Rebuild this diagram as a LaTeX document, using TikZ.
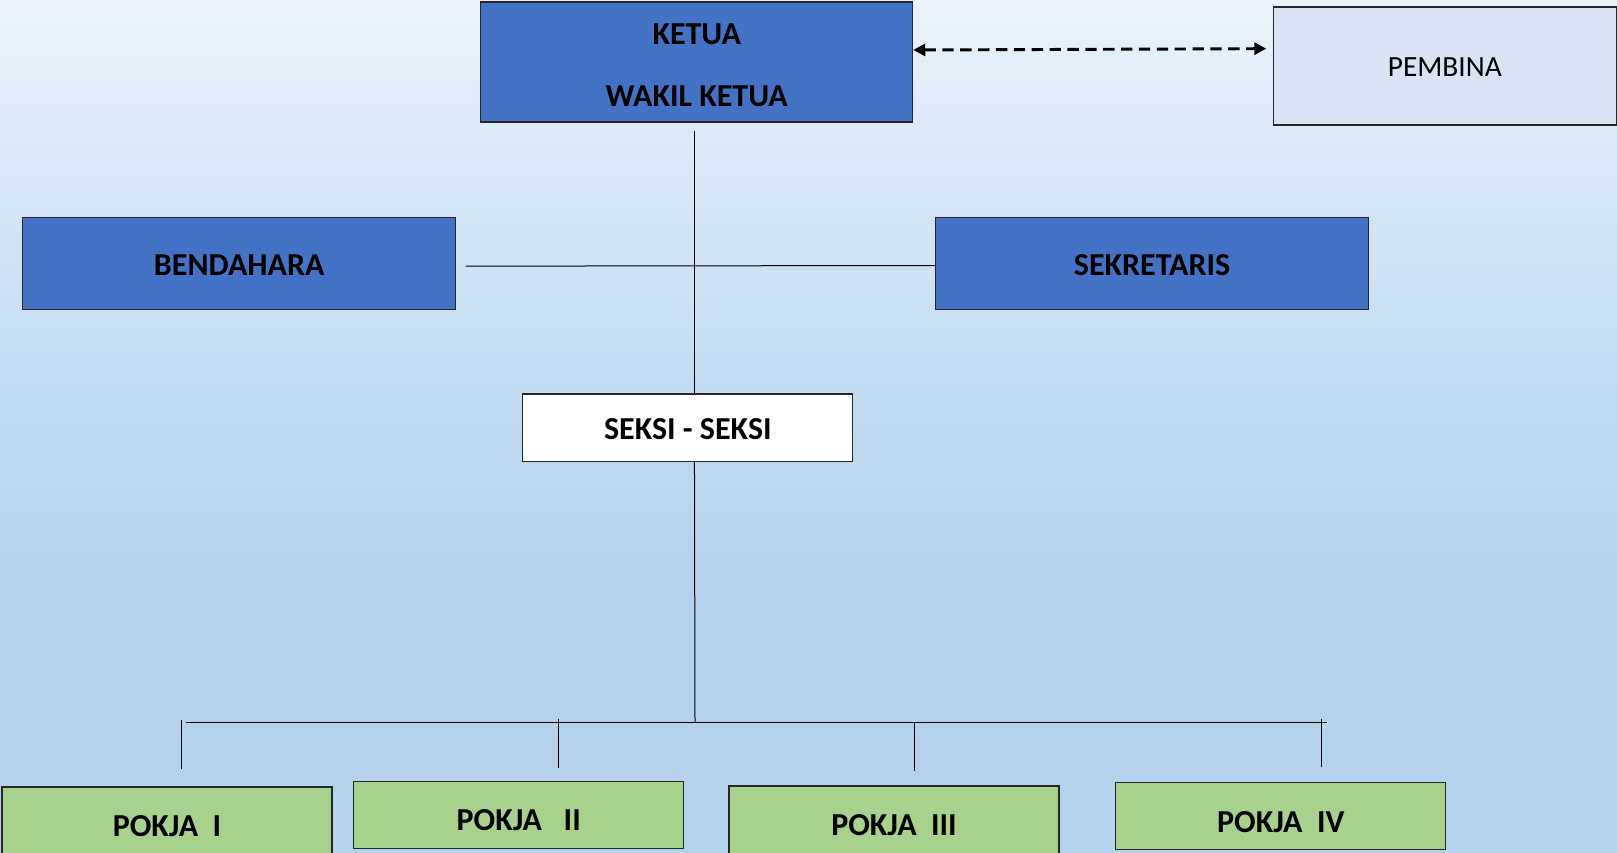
\documentclass[tikz,border=0pt]{standalone}
\usepackage{fontspec}
\setmainfont{Carlito}
\usetikzlibrary{arrows.meta,calc}
\definecolor{bgtop}{RGB}{233,242,250}
\definecolor{bgmid}{RGB}{206,226,243}
\definecolor{bgbot}{RGB}{180,210,236}
\definecolor{boxblue}{RGB}{68,114,196}
\definecolor{boxgreen}{RGB}{169,209,142}
\definecolor{boxpale}{RGB}{218,227,243}
\pgfdeclareverticalshading{bgshade}{100bp}{color(0bp)=(bgbot); color(42bp)=(bgbot); color(59bp)=(bgmid); color(75bp)=(bgtop); color(100bp)=(bgtop)}
\newcommand{\shiftdown}[2]{\raisebox{-#1}[\height][\depth]{#2}}
\begin{document}
\begin{tikzpicture}[x=0.75pt,y=-0.75pt,
  basebox/.style={draw=black!85, line width=0.8pt, rectangle, inner sep=0pt, align=center},
  bluebox/.style={basebox, fill=boxblue, font=\fontsize{24}{29}\selectfont\bfseries},
  greenbox/.style={basebox, fill=boxgreen, font=\fontsize{24}{29}\selectfont\bfseries, minimum width=247.5pt},
  whitebox/.style={basebox, fill=white, font=\fontsize{24}{29}\selectfont\bfseries},
  palebox/.style={basebox, fill=boxpale, font=\fontsize{22}{26}\selectfont},
  conn/.style={draw=black, line width=0.75pt},
  dasharrow/.style={draw=black, line width=2.2pt, dash pattern=on 8.5pt off 4.9pt, {Triangle[length=9pt,width=9pt]}-{Triangle[length=9pt,width=9pt]}}]
\shade[shading=bgshade] (0,0) rectangle (1617,853);
\useasboundingbox (0,0) rectangle (1617,853);

\node[bluebox, minimum width=324pt, minimum height=90pt] (ketua) at (696.7,62) {\shiftdown{2.3pt}{KETUA}\\[17.5pt]\shiftdown{2.3pt}{WAKIL KETUA}};
\node[palebox, minimum width=257pt, minimum height=88.5pt] (pembina) at (1444.8,66) {\shiftdown{0.8pt}{PEMBINA}};
\node[bluebox, minimum width=324.8pt, minimum height=69pt] (bend) at (239.2,263.5) {\shiftdown{1.5pt}{BENDAHARA}};
\node[bluebox, minimum width=324.8pt, minimum height=69pt] (sek) at (1152,263.5) {\shiftdown{1.5pt}{SEKRETARIS}};
\node[whitebox, minimum width=247.5pt, minimum height=50.3pt] (seksi) at (687.8,427.5) {\shiftdown{1.5pt}{SEKSI - SEKSI}};

\node[greenbox, minimum height=57pt] (p1) at (167,825) {\shiftdown{0.8pt}{POKJA\ \ I}};
\node[greenbox, minimum height=50.3pt] (p2) at (518.7,815) {\shiftdown{3.8pt}{POKJA\ \ \ II}};
\node[greenbox, minimum height=57pt] (p3) at (894,824) {\shiftdown{0.8pt}{POKJA\ \ III}};
\node[greenbox, minimum height=50.3pt] (p4) at (1280.8,816) {\shiftdown{4.3pt}{POKJA\ \ IV}};

\draw[dasharrow] ([yshift=9pt]ketua.east) -- ([xshift=-5pt,yshift=13pt]pembina.west);
\draw[conn] ([xshift=-2pt,yshift=-6pt]ketua.south) -- ([xshift=-2pt]ketua.south |- seksi.north);
\draw[conn] ([xshift=7pt,yshift=-2pt]bend.east) -- ([yshift=-1.5pt]sek.west);

\coordinate (busL) at (185.6,722);
\coordinate (busR) at (1327,722);
\coordinate (busM) at (695,722);
\draw[conn] ([xshift=5pt]seksi.south) -- (busM);
\draw[conn] (busL) -- (busR);
\coordinate (d1) at (181.5,720);
\coordinate (d2) at (558,719);
\coordinate (d3) at (914.7,722);
\coordinate (d4) at (1321,719);
\draw[conn] (d1) -- ([yshift=13pt]d1 |- p1.north);
\draw[conn] (d2) -- ([yshift=10pt]d2 |- p2.north);
\draw[conn] (d3) -- ([yshift=11pt]d3 |- p3.north);
\draw[conn] (d4) -- ([yshift=11pt]d4 |- p4.north);
\end{tikzpicture}
\end{document}
